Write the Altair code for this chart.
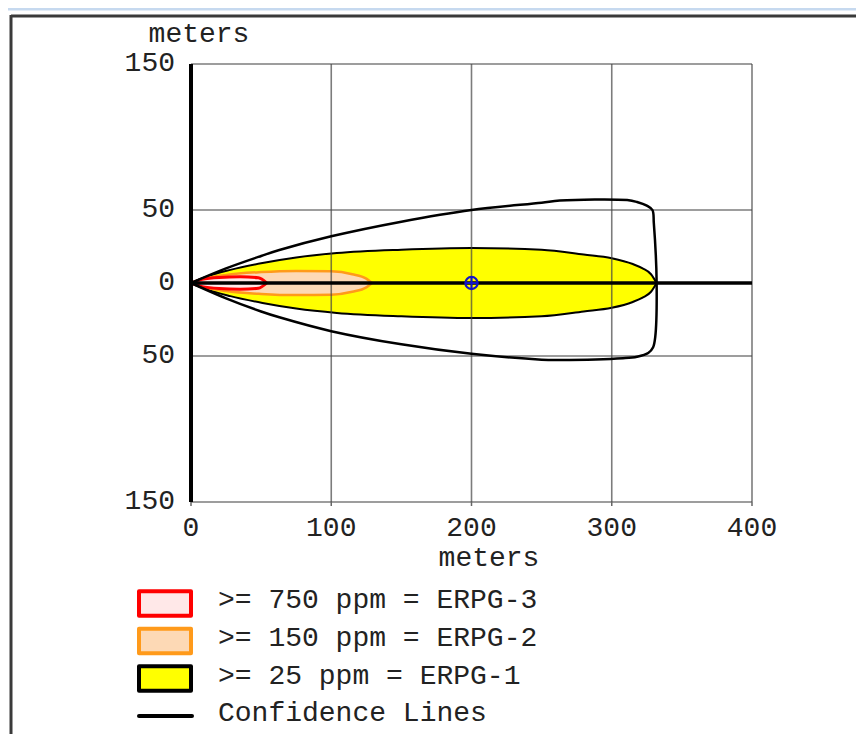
import altair as alt
import pandas as pd

# ---------------- data (meters) ----------------
# threat zones: downwind distance and half-width
red_x = [0, 8, 20, 35, 48, 54]
red_w = [0, 2.5, 3.8, 4.2, 3.6, 0]

orange_x = [0, 10, 25, 50, 75, 100, 115, 125, 129]
orange_w = [0, 3.0, 5.5, 7.5, 8.3, 8.0, 6.0, 3.0, 0]

yellow_x = [0, 10, 28, 51, 75, 104, 150, 200, 250, 280, 300, 315, 322, 328, 332]
yellow_w = [0, 4.0, 9.0, 13.7, 17.5, 20.5, 22.8, 24.0, 22.8, 19.5, 17.0, 13.0, 10.0, 6.0, 0]

# confidence lines (closed envelope, drawn in order)
conf_x = [0, 25, 50, 63, 100, 150, 200, 250, 263, 311, 318, 325, 329, 330, 332,
          331, 329.5, 326, 318, 308, 263, 250, 200, 150, 100, 63, 50, 25, 0]
conf_y = [0, 10, 18.5, 22.6, 32, 42, 50, 55, 56.5, 56.8, 55.5, 53, 50, 41, 0,
          -37, -44, -48, -50.5, -51.5, -52.7, -52.5, -48.5, -42, -33, -23.5, -19.5, -10.5, 0]

# axes / grid
x_ticks = [0, 100, 200, 300, 400]
y_ticks = [150, 50, 0, -50, -150]
grid_x = [100, 200, 300, 400]
grid_y = [150, 50, -50, -150]
axis_title = "meters"

# plume centreline and source marker
center_x = [0]
center_x2 = [400]
center_y = [0]
marker_x = [200]
marker_y = [0]

# legend
legend_labels = [">= 750 ppm = ERPG-3", ">= 150 ppm = ERPG-2",
                 ">= 25 ppm = ERPG-1", "Confidence Lines"]
legend_fill = ["#ffe8e8", "#fdd9b5", "#ffff00", "#000000"]
legend_stroke = ["#ff0000", "#ff9a1a", "#000000", "#000000"]

# ---------------- styling ----------------
FONT = "Liberation Mono"
FS = 28
TXT = "#222222"
GRID = "#444444"
W, H = 561, 438

x_scale = alt.Scale(domain=[0, 400], nice=False, zero=False)
y_scale = alt.Scale(domain=[-150, 150], nice=False, zero=False)

X = lambda f: alt.X(f, scale=x_scale, axis=None)
Y = lambda f: alt.Y(f, scale=y_scale, axis=None)


def zone_df(xs, ws):
    return pd.DataFrame({"x": xs, "hi": ws, "lo": [-w for w in ws]})


yellow = alt.Chart(zone_df(yellow_x, yellow_w)).mark_area(
    fill="#ffff00", stroke="black", strokeWidth=2, strokeJoin="round",
    interpolate="monotone").encode(x=X("x:Q"), y=Y("hi:Q"), y2="lo:Q")

orange = alt.Chart(zone_df(orange_x, orange_w)).mark_area(
    fill="#fdd9b5", stroke="#ff9a1a", strokeWidth=2.5, strokeJoin="round",
    interpolate="monotone").encode(x=X("x:Q"), y=Y("hi:Q"), y2="lo:Q")

red = alt.Chart(zone_df(red_x, red_w)).mark_area(
    fill="#ffe8e8", stroke="#ff0000", strokeWidth=3, strokeJoin="round",
    interpolate="monotone").encode(x=X("x:Q"), y=Y("hi:Q"), y2="lo:Q")

grid_v = alt.Chart(pd.DataFrame({"gx": grid_x, "lo": -150, "hi": 150})).mark_rule(
    color=GRID, strokeWidth=1.6, opacity=0.7).encode(
    x=X("gx:Q"), y=Y("lo:Q"), y2="hi:Q")

grid_h = alt.Chart(pd.DataFrame({"gy": grid_y, "lo": 0, "hi": 400})).mark_rule(
    color=GRID, strokeWidth=1.6, opacity=0.7).encode(
    y=Y("gy:Q"), x=X("lo:Q"), x2="hi:Q")

conf = alt.Chart(pd.DataFrame({"x": conf_x, "y": conf_y,
                               "i": list(range(len(conf_x)))})).mark_line(
    color="black", strokeWidth=2.5, strokeJoin="round",
    interpolate="catmull-rom").encode(
    x=X("x:Q"), y=Y("y:Q"), order="i:Q")

center = alt.Chart(pd.DataFrame({"x": center_x, "x2": center_x2, "y": center_y})).mark_rule(
    color="black", strokeWidth=3.5).encode(x=X("x:Q"), x2="x2:Q", y=Y("y:Q"))

marker_df = pd.DataFrame({"x": marker_x, "y": marker_y})
marker_circle = alt.Chart(marker_df).mark_point(
    shape="circle", size=150, filled=False, color="#1414c8", strokeWidth=2.2,
    opacity=1).encode(x=X("x:Q"), y=Y("y:Q"))
marker_cross = alt.Chart(marker_df).mark_point(
    shape="M-1,0L1,0M0,-1L0,1", size=150, filled=False, color="#1414c8",
    strokeWidth=2, opacity=1).encode(x=X("x:Q"), y=Y("y:Q"))

# ---------------- axes drawn from the tick arrays ----------------
y_axis_line = alt.Chart(pd.DataFrame({"x": [0], "lo": [-150], "hi": [150]})).mark_rule(
    color="black", strokeWidth=4).encode(x=X("x:Q"), y=Y("lo:Q"), y2="hi:Q")

x_tick_marks = alt.Chart(pd.DataFrame({"v": x_ticks})).mark_rule(
    color="#666666", strokeWidth=1.5).encode(
    x=X("v:Q"), y=alt.value(H), y2=alt.value(H + 4))

y_labels = alt.Chart(pd.DataFrame({"v": y_ticks,
                                   "t": [str(abs(v)) for v in y_ticks]})).mark_text(
    align="right", baseline="middle", font=FONT, fontSize=FS, color=TXT, dx=-16, dy=-1).encode(
    x=alt.value(0), y=Y("v:Q"), text="t:N")

x_labels = alt.Chart(pd.DataFrame({"v": x_ticks,
                                   "t": [str(v) for v in x_ticks]})).mark_text(
    align="center", baseline="middle", font=FONT, fontSize=FS, color=TXT).encode(
    x=X("v:Q"), y=alt.value(H + 26), text="t:N")

titles = pd.DataFrame({"t": [axis_title]})
x_title = alt.Chart(titles).mark_text(
    align="center", baseline="alphabetic", font=FONT, fontSize=FS, color=TXT).encode(
    x=alt.value(298), y=alt.value(H + 64), text="t:N")
y_title = alt.Chart(titles).mark_text(
    align="center", baseline="alphabetic", font=FONT, fontSize=FS, color=TXT).encode(
    x=alt.value(8), y=alt.value(-22), text="t:N")

# ---------------- legend (placed below the plot on the same y scale) ----------------
n = len(legend_labels)
leg_df = pd.DataFrame({"label": legend_labels, "fill": legend_fill,
                       "stroke": legend_stroke, "idx": list(range(n))})
leg_df["ly"] = -219.5 - 25.7 * leg_df["idx"]

swatch = alt.Chart(leg_df).transform_filter("datum.idx < 3").mark_point(
    shape="M-1,-0.47L1,-0.47L1,0.47L-1,0.47Z", size=52 * 52, filled=True,
    opacity=1, strokeWidth=4, strokeJoin="round").encode(
    x=alt.value(-26), y=Y("ly:Q"),
    fill=alt.Fill("fill:N", scale=None, legend=None),
    stroke=alt.Stroke("stroke:N", scale=None, legend=None))

leg_line = alt.Chart(leg_df).transform_filter("datum.idx == 3").mark_rule(
    color="black", strokeWidth=4, strokeCap="round").encode(
    x=alt.value(-52), x2=alt.value(1), y=Y("ly:Q"))

leg_text = alt.Chart(leg_df).mark_text(
    align="left", baseline="middle", font=FONT, fontSize=FS, color=TXT, dy=-3).encode(
    x=alt.value(27), y=Y("ly:Q"), text="label:N")

# ---------------- window frame (decoration) ----------------
one = pd.DataFrame({"k": [0]})
frame_top = alt.Chart(one).mark_rule(color="#3a3a3a", strokeWidth=3).encode(
    x=alt.value(-180), x2=alt.value(670), y=alt.value(-48))
frame_left = alt.Chart(one).mark_rule(color="#3a3a3a", strokeWidth=3).encode(
    x=alt.value(-180), y=alt.value(-49), y2=alt.value(680))
top_band = alt.Chart(one).mark_rule(color="#c6d9ef", strokeWidth=3).encode(
    x=alt.value(-190), x2=alt.value(670), y=alt.value(-55))

chart = alt.layer(
    yellow, orange, red, grid_v, grid_h, conf, center, marker_circle, marker_cross,
    y_axis_line, x_tick_marks, y_labels, x_labels, x_title, y_title,
    swatch, leg_line, leg_text, top_band, frame_top, frame_left
).properties(
    width=W, height=H,
    padding={"left": 183, "top": 56, "right": 104, "bottom": 232},
    autosize=alt.AutoSizeParams(type="none"),
    background="white",
).configure_view(stroke=None)

chart.save("out.html", embed_options={"renderer": "svg", "actions": False})
